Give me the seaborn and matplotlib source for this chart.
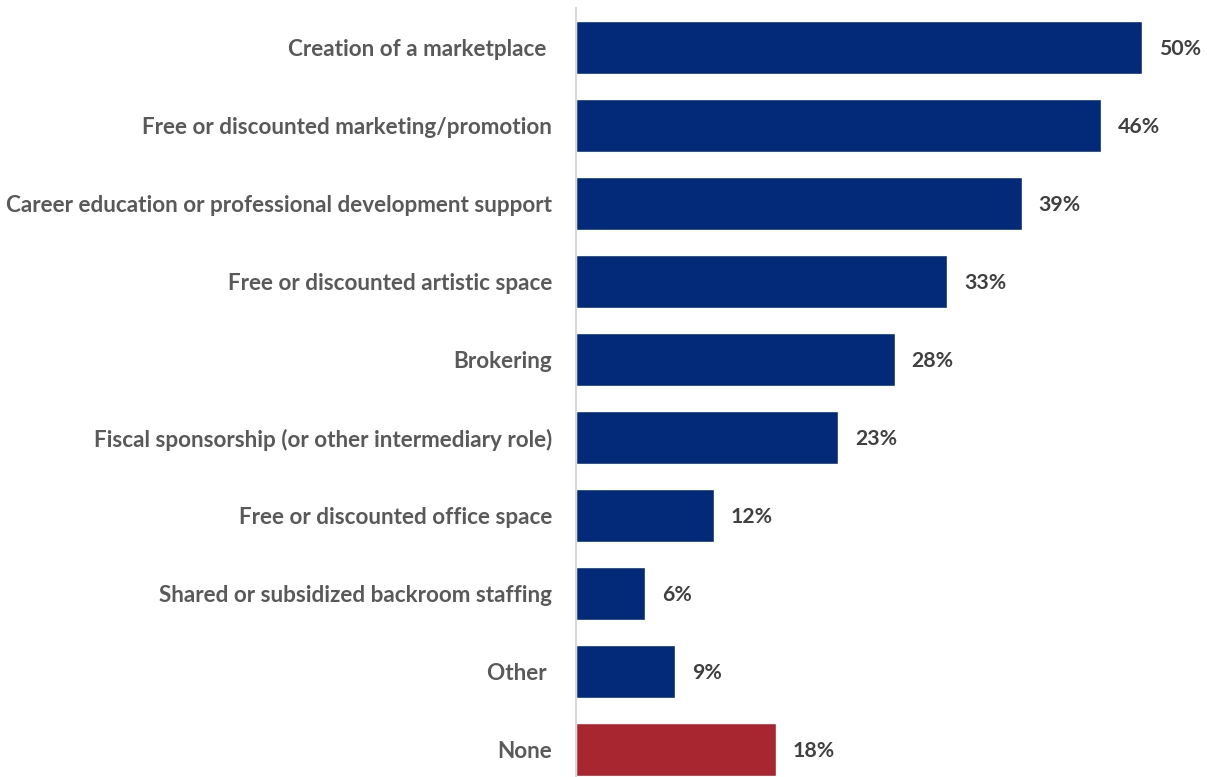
import matplotlib
matplotlib.use("Agg")
import matplotlib.pyplot as plt
import seaborn as sns
import pandas as pd

# survey answers, top to bottom
categories = [
    "Creation of a marketplace ",
    "Free or discounted marketing/promotion",
    "Career education or professional development support",
    "Free or discounted artistic space",
    "Brokering",
    "Fiscal sponsorship (or other intermediary role)",
    "Free or discounted office space",
    "Shared or subsidized backroom staffing",
    "Other ",
    "None",
]
# bar lengths (labels are the rounded figures)
values = [50.0, 46.4, 39.4, 32.8, 28.2, 23.2, 12.2, 6.15, 8.8, 17.7]
value_labels = ["50%", "46%", "39%", "33%", "28%", "23%", "12%", "6%", "9%", "18%"]

df = pd.DataFrame({"category": categories, "value": values})
bar_colors = ["#022a78"] * 9 + ["#a8262f"]

sns.set_style("white")
plt.rcParams["font.family"] = ["Lato", "DejaVu Sans"]

fig = plt.figure(figsize=(12.07, 7.77), dpi=100)
ax = fig.add_axes([575.5 / 1207, 0, 1 - 575.5 / 1207, 769 / 777])

sns.barplot(data=df, x="value", y="category", hue="category",
            palette=bar_colors, legend=False, width=0.68, ax=ax,
            saturation=1)

for i, (v, lab) in enumerate(zip(values, value_labels)):
    ax.annotate(lab, (v, i), xytext=(12, -1), textcoords="offset points",
                va="center", ha="left", fontsize=15.3, fontweight="bold",
                color="#404040")

ax.set_xlim(0, 631.5 / 11.33)
ax.set_ylim(9.35, -0.51)
ax.set_xlabel("")
ax.set_ylabel("")
ax.set_xticks([])
ax.tick_params(axis="y", length=0, pad=17)
for t in ax.get_yticklabels():
    t.set_fontsize(16.2)
    t.set_fontweight("bold")
    t.set_color("#595959")

for s in ["top", "right", "bottom"]:
    ax.spines[s].set_visible(False)
ax.spines["left"].set_color("#d9d9d9")
ax.spines["left"].set_linewidth(1.5)

fig.savefig("out.png", dpi=100)
